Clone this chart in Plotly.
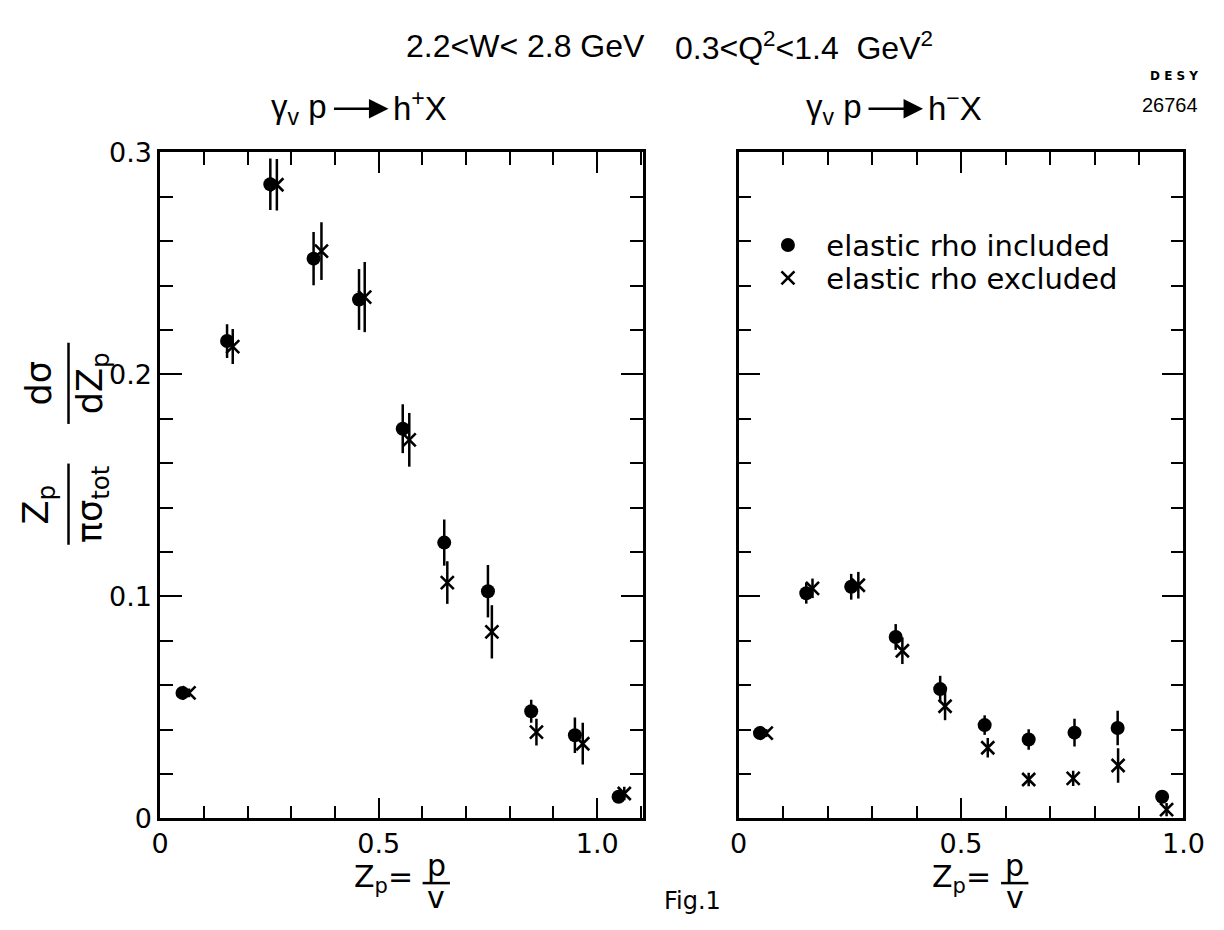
import plotly.graph_objects as go

# ---------------- data ----------------
# left panel: gamma_v p -> h+ X
zp_pos_incl = [0.051, 0.153, 0.252, 0.351, 0.455, 0.555, 0.650, 0.750, 0.849, 0.949, 1.049]
val_pos_incl = [0.0565, 0.2150, 0.2856, 0.2521, 0.2337, 0.1755, 0.1242, 0.1023, 0.0482, 0.0374, 0.0097]
err_pos_incl = [0.0020, 0.0076, 0.0116, 0.0120, 0.0137, 0.0110, 0.0104, 0.0118, 0.0052, 0.0080, 0.0025]

zp_pos_excl = [0.066, 0.166, 0.267, 0.369, 0.468, 0.570, 0.657, 0.759, 0.861, 0.967, 1.062]
val_pos_excl = [0.0565, 0.2125, 0.2854, 0.2555, 0.2348, 0.1705, 0.1062, 0.0840, 0.0388, 0.0336, 0.0112]
err_pos_excl = [0.0020, 0.0079, 0.0116, 0.0130, 0.0158, 0.0121, 0.0096, 0.0120, 0.0060, 0.0094, 0.0030]

# right panel: gamma_v p -> h- X
zp_neg_incl = [0.048, 0.152, 0.253, 0.353, 0.453, 0.553, 0.652, 0.755, 0.852, 0.952]
val_neg_incl = [0.0384, 0.1014, 0.1043, 0.0817, 0.0582, 0.0420, 0.0355, 0.0386, 0.0407, 0.0097]
err_neg_incl = [0.0018, 0.0047, 0.0058, 0.0058, 0.0060, 0.0044, 0.0046, 0.0062, 0.0078, 0.0020]

zp_neg_excl = [0.062, 0.166, 0.269, 0.368, 0.464, 0.560, 0.652, 0.752, 0.853, 0.962]
val_neg_excl = [0.0384, 0.1036, 0.1050, 0.0755, 0.0505, 0.0318, 0.0175, 0.0180, 0.0238, 0.0039]
err_neg_excl = [0.0018, 0.0044, 0.0060, 0.0060, 0.0063, 0.0044, 0.0030, 0.0034, 0.0078, 0.0030]

x_tickvals = [0, 0.5, 1.0]
x_ticktext = ["0", "0.5", "1.0"]
y_tickvals = [0, 0.1, 0.2, 0.3]
y_ticktext = ["0", "0.1", "0.2", "0.3"]

legend_incl = "elastic rho included"
legend_excl = "elastic rho excluded"

# ---------------- layout helpers ----------------
W, H = 1224, 930
def px(x):
    return x / W
def py(y):
    return 1 - y / H

FONT = "DejaVu Sans, Liberation Sans, sans-serif"
NARROW = "Liberation Sans, Arial, sans-serif"
BLACK = "black"
NB = "\u00a0"

fig = go.Figure()

def add_series(x, y, e, xa, ya, symbol, name, showlegend, legend):
    if symbol == "circle":
        marker = dict(symbol="circle", size=14, color=BLACK)
    else:
        marker = dict(symbol="x-thin", size=13, color=BLACK,
                      line=dict(color=BLACK, width=2.6))
    fig.add_trace(go.Scatter(
        x=x, y=y, mode="markers", name=NB * 2 + name, xaxis=xa, yaxis=ya,
        marker=marker, showlegend=showlegend, legend=legend,
        error_y=dict(type="data", array=e, visible=True, thickness=2.5,
                     width=0, color=BLACK),
    ))

add_series(zp_pos_incl, val_pos_incl, err_pos_incl, "x", "y", "circle", legend_incl, False, "legend")
add_series(zp_pos_excl, val_pos_excl, err_pos_excl, "x", "y", "x", legend_excl, False, "legend2")
add_series(zp_neg_incl, val_neg_incl, err_neg_incl, "x2", "y2", "circle", legend_incl, True, "legend")
add_series(zp_neg_excl, val_neg_excl, err_neg_excl, "x2", "y2", "x", legend_excl, True, "legend2")

axis_common = dict(
    showgrid=False, zeroline=False, showline=True, linecolor=BLACK, linewidth=2.5,
    mirror="ticks", ticks="inside", tickcolor=BLACK, tickwidth=2.2,
    ticklabeloverflow="allow",
    tickfont=dict(family=FONT, size=27, color=BLACK),
)

left_dom = [px(155), px(650)]
right_dom = [px(748), px(1204)]
y_dom = [py(830), py(141)]

legend_style = dict(xanchor="left", yanchor="middle",
                    font=dict(family=FONT, size=29, color=BLACK),
                    bgcolor="rgba(0,0,0,0)", borderwidth=0)

fig.update_layout(
    width=W, height=H,
    margin=dict(l=0, r=0, t=0, b=0),
    paper_bgcolor="white", plot_bgcolor="white",
    showlegend=True,
    legend=dict(x=px(778), y=py(237), **legend_style),
    legend2=dict(x=px(778), y=py(271), **legend_style),
    xaxis=dict(domain=left_dom, range=[0, 1.105], anchor="y",
               tickvals=x_tickvals, ticktext=x_ticktext, ticklen=21,
               minor=dict(dtick=0.1, tick0=0, ticklen=13, ticks="inside",
                          tickcolor=BLACK, tickwidth=2.2),
               **axis_common),
    yaxis=dict(domain=y_dom, range=[0, 0.3], anchor="x",
               tickvals=y_tickvals, ticktext=y_ticktext, ticklen=22,
               minor=dict(dtick=0.02, tick0=0, ticklen=13, ticks="inside",
                          tickcolor=BLACK, tickwidth=2.2),
               **axis_common),
    xaxis2=dict(domain=right_dom, range=[0, 1.0], anchor="y2",
                tickvals=x_tickvals, ticktext=x_ticktext, ticklen=21,
                minor=dict(dtick=0.1, tick0=0, ticklen=13, ticks="inside",
                           tickcolor=BLACK, tickwidth=2.2),
                **axis_common),
    yaxis2=dict(domain=y_dom, range=[0, 0.3], anchor="x2",
                tickvals=y_tickvals, ticktext=["", "", "", ""], ticklen=22,
                minor=dict(dtick=0.02, tick0=0, ticklen=13, ticks="inside",
                           tickcolor=BLACK, tickwidth=2.2),
                **axis_common),
)

annotations = []
shapes = []

def text(x, y, s, size, family=FONT, xanchor="center", yanchor="middle", angle=0):
    annotations.append(dict(x=px(x), y=py(y), xref="paper", yref="paper",
                            text=s, showarrow=False, xanchor=xanchor, yanchor=yanchor,
                            textangle=angle,
                            font=dict(family=family, size=size, color=BLACK)))

def arrow(x0, x1, y):
    annotations.append(dict(x=px(x1), y=py(y), xref="paper", yref="paper",
                            axref="pixel", ayref="pixel", ax=-(x1 - x0), ay=0,
                            text="", showarrow=True, arrowhead=2, arrowsize=1.5,
                            arrowwidth=2.6, arrowcolor=BLACK, standoff=0))

def hline(x0, x1, y):
    shapes.append(dict(type="line", xref="paper", yref="paper",
                       x0=px(x0), x1=px(x1), y0=py(y), y1=py(y),
                       line=dict(color=BLACK, width=2.5)))

def vline(x, y0, y1):
    shapes.append(dict(type="line", xref="paper", yref="paper",
                       x0=px(x), x1=px(x), y0=py(y0), y1=py(y1),
                       line=dict(color=BLACK, width=2.5)))

# top titles
text(529, 31, "2.2&lt;W&lt; 2.8 GeV", 32, NARROW)
text(815, 31, "0.3&lt;Q<sup>2</sup>&lt;1.4  GeV<sup>2</sup>", 32, NARROW)

# reaction labels
text(328, 96, "γ<sub>v</sub> p", 33, NARROW, xanchor="right")
arrow(333, 389, 96)
text(392, 93, "h<sup>+</sup>X", 33, NARROW, xanchor="left")
text(876, 96, "γ<sub>v</sub> p", 33, NARROW, xanchor="right")
arrow(881, 937, 96)
text(940, 93, "h<sup>−</sup>X", 33, NARROW, xanchor="left")

text(1221, 62, "<b>D E S Y</b>", 12, FONT, xanchor="right")
text(1221, 92, "26764", 20, NARROW, xanchor="right")
text(701, 916, "Fig.1", 24, FONT)

# y-axis title (two rotated fractions)
text(30, 505, "Z<sub>p</sub>", 35, FONT, angle=-90)
vline(61, 463, 547)
text(85, 505, "πσ<sub>tot</sub>", 35, FONT, angle=-90)
text(31, 380, "dσ", 35, FONT, angle=-90)
vline(61, 338, 422)
text(85, 380, "dZ<sub>p</sub>", 35, FONT, angle=-90)

# x-axis titles  Z_p = p / v
for off in (0, 593):
    text(416 + off, 892, "Z<sub>p</sub>=", 30, FONT, xanchor="right")
    text(438 + off, 879, "p", 30, FONT)
    hline(424 + off, 452 + off, 897)
    text(438 + off, 912, "v", 30, FONT)

fig.update_layout(annotations=annotations, shapes=shapes)

fig.write_html("out.html",
               config={"displayModeBar": False},
               post_script="document.body.style.margin='0px';"
                           "document.body.style.overflow='hidden';")
